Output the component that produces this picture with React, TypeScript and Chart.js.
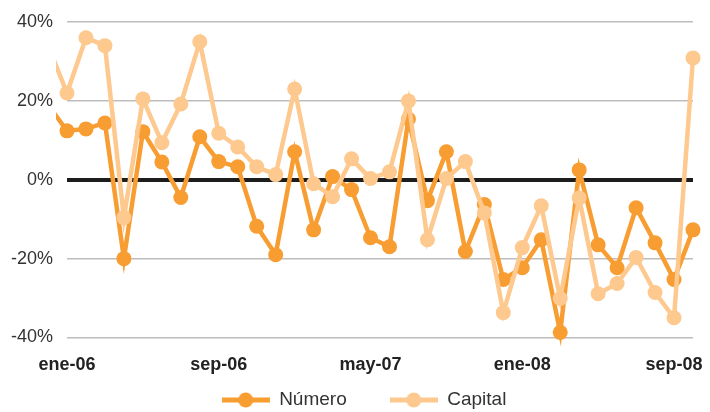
import React, { useEffect, useRef } from "react";
import { Chart, registerables } from "chart.js";

Chart.register(...registerables);

// Months: dic-05 (only partly visible at the left edge) to oct-08
const months = [
  "dic-05",
  "ene-06", "feb-06", "mar-06", "abr-06", "may-06", "jun-06", "jul-06", "ago-06", "sep-06", "oct-06", "nov-06", "dic-06",
  "ene-07", "feb-07", "mar-07", "abr-07", "may-07", "jun-07", "jul-07", "ago-07", "sep-07", "oct-07", "nov-07", "dic-07",
  "ene-08", "feb-08", "mar-08", "abr-08", "may-08", "jun-08", "jul-08", "ago-08", "sep-08", "oct-08",
];

const tickLabels = ["ene-06", "sep-06", "may-07", "ene-08", "sep-08"];

const numero = [
  19,
  12.4, 12.9, 14.4, -20, 12.2, 4.5, -4.5, 10.9, 4.6, 3.3, -11.8, -19,
  7.1, -12.7, 0.8, -2.5, -14.7, -17, 15.4, -5.3, 7.1, -18.2, -6.3, -25.3,
  -22.3, -15.2, -38.7, 2.5, -16.5, -22.3, -7.1, -16, -25.3, -12.7,
];

const capital = [
  34,
  22, 36, 34, -9.6, 20.5, 9.4, 19.2, 35, 11.8, 8.3, 3.3, 1.3,
  23, -1, -4.3, 5.3, 0.3, 2, 20, -15.2, 0.3, 4.6, -8.4, -33.7,
  -17.2, -6.6, -30.1, -4.6, -28.9, -26.3, -19.7, -28.6, -35, 30.9,
];

const yTicks = [-40, -20, 0, 20, 40];

const NUM_COLOR = "#F89D32";
const CAP_COLOR = "#FDC98F";

function makeIcon(color: string): HTMLCanvasElement {
  const c = document.createElement("canvas");
  c.width = 48;
  c.height = 16;
  const ctx = c.getContext("2d")!;
  ctx.strokeStyle = color;
  ctx.lineWidth = 5;
  ctx.beginPath();
  ctx.moveTo(0, 8);
  ctx.lineTo(48, 8);
  ctx.stroke();
  ctx.fillStyle = color;
  ctx.beginPath();
  ctx.arc(24, 8, 7.5, 0, Math.PI * 2);
  ctx.fill();
  return c;
}

// Moves the legend box so that its items sit where the reference has them
const legendPlacer = {
  id: "legendPlacer",
  afterLayout(chart: any) {
    const lg = chart.legend;
    if (!lg) return;
    const h = lg.bottom - lg.top;
    lg.left = 35;
    lg.right = 693;
    lg.top = 347.5;
    lg.bottom = lg.top + h;
  },
};

export default function App() {
  const ref = useRef<HTMLCanvasElement | null>(null);

  useEffect(() => {
    document.body.style.margin = "0";
    document.body.style.overflow = "hidden";
    if (!ref.current) return;
    const icons = [makeIcon(NUM_COLOR), makeIcon(CAP_COLOR)];
    const toPoints = (arr: number[]) => arr.map((v, i) => ({ x: i - 1, y: v }));
    const clip = { left: 11, top: 15, right: 15, bottom: 15 };

    const chart = new Chart(ref.current, {
      type: "line",
      plugins: [legendPlacer],
      data: {
        datasets: [
          {
            label: "Número",
            data: toPoints(numero),
            borderColor: NUM_COLOR,
            backgroundColor: NUM_COLOR,
            borderWidth: 4.5,
            pointRadius: numero.map((_, i) => (i === 0 ? 0 : 7.5)),
            pointBorderWidth: 0,
            pointBackgroundColor: NUM_COLOR,
            tension: 0,
            clip: clip as any,
            order: 1,
          },
          {
            label: "Capital",
            data: toPoints(capital),
            borderColor: CAP_COLOR,
            backgroundColor: CAP_COLOR,
            borderWidth: 4.5,
            pointRadius: capital.map((_, i) => (i === 0 ? 0 : 7.5)),
            pointBorderWidth: 0,
            pointBackgroundColor: CAP_COLOR,
            tension: 0,
            clip: clip as any,
            order: 0,
          },
        ],
      },
      options: {
        animation: false,
        responsive: false,
        maintainAspectRatio: false,
        devicePixelRatio: 1,
        layout: { padding: { left: 0, right: 17, top: 22, bottom: -37.5 } },
        plugins: {
          tooltip: { enabled: false },
          legend: {
            position: "bottom",
            labels: {
              usePointStyle: true,
              pointStyleWidth: 48,
              boxHeight: 16,
              padding: 43,
              color: "#333333",
              font: { family: "'Liberation Sans', Arial, sans-serif", size: 19 },
              generateLabels: (ch: any) =>
                ch.data.datasets.map((ds: any, i: number) => ({
                  text: ds.label,
                  pointStyle: icons[i],
                  fillStyle: ds.borderColor,
                  strokeStyle: ds.borderColor,
                  lineWidth: 0,
                  hidden: false,
                  datasetIndex: i,
                  fontColor: "#333333",
                })),
            },
          },
        },
        scales: {
          x: {
            type: "linear",
            min: 0,
            max: months.length - 2,
            afterBuildTicks: (scale: any) => {
              scale.ticks = tickLabels.map((l) => ({ value: months.indexOf(l) - 1 }));
            },
            afterFit: (scale: any) => {
              scale.height = 40;
              scale.paddingLeft = 0;
              scale.paddingRight = 0;
            },
            grid: { display: false, drawTicks: false },
            border: { display: false },
            ticks: {
              autoSkip: false,
              maxRotation: 0,
              padding: 17,
              color: "#222222",
              font: { family: "'Liberation Sans', Arial, sans-serif", size: 18, weight: "bold" },
              callback: (v: any) => months[Number(v) + 1],
            },
          },
          y: {
            min: -40,
            max: 40,
            afterBuildTicks: (scale: any) => {
              scale.ticks = yTicks.map((v) => ({ value: v }));
            },
            afterFit: (scale: any) => {
              scale.width = 67;
              scale.paddingTop = 0;
              scale.paddingBottom = 0;
            },
            grid: {
              drawTicks: false,
              color: (ctx: any) => (ctx.tick && ctx.tick.value === 0 ? "#1d1d1d" : "#bdbdbd"),
              lineWidth: (ctx: any) => (ctx.tick && ctx.tick.value === 0 ? 4 : 1.5),
            },
            border: { display: false },
            ticks: {
              padding: 14,
              color: "#333333",
              font: { family: "'Liberation Sans', Arial, sans-serif", size: 18 },
              callback: (v: any) => `${v}%`,
            },
          },
        },
      },
    });
    return () => chart.destroy();
  }, []);

  return (
    <div style={{ width: 710, height: 412, overflow: "hidden", background: "#ffffff" }}>
      <canvas ref={ref} width={710} height={412} style={{ display: "block", width: 710, height: 412 }} />
    </div>
  );
}
